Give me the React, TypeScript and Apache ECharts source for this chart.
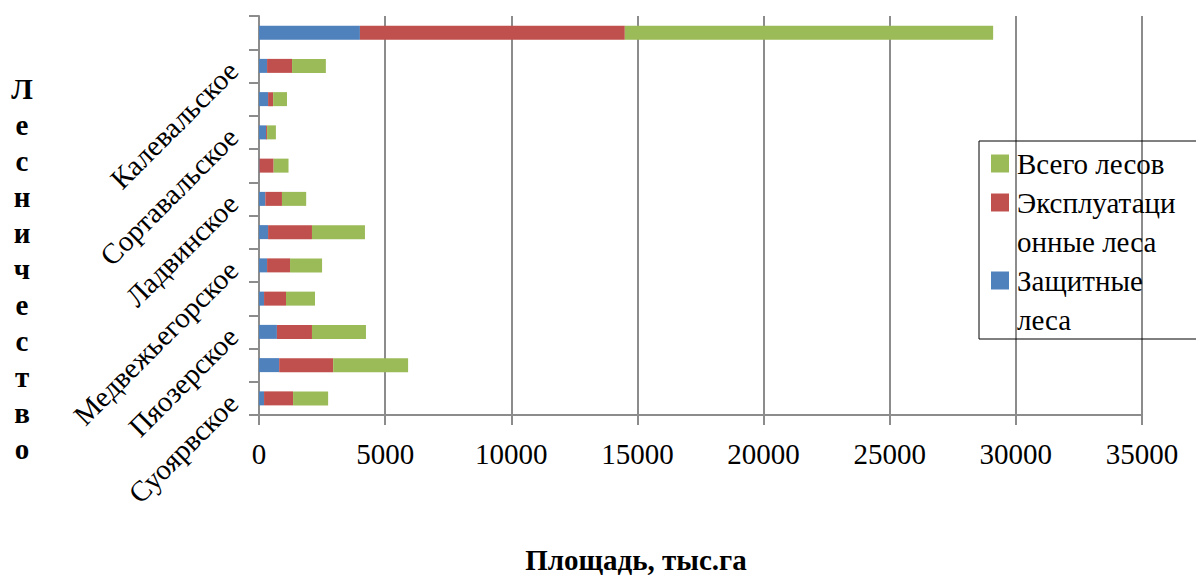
import React, { useEffect, useRef } from "react";
import * as echarts from "echarts";

const categories = [
  "Суоярвское",
  "Сегежское",
  "Пяозерское",
  "Пудожское",
  "Медвежьегорское",
  "Муезерское",
  "Ладвинское",
  "Олонецкое",
  "Сортавальское",
  "Питкярантское",
  "Калевальское",
  "Всего",
];
const protectiveForests = [200, 800, 710, 200, 320, 360, 250, 20, 280, 360, 320, 4000];
const exploitationForests = [1150, 2140, 1390, 870, 910, 1740, 660, 560, 40, 200, 990, 10500];
const totalForests = [1390, 2970, 2140, 1150, 1270, 2100, 960, 590, 350, 550, 1340, 14600];
const xTicks = { min: 0, max: 35000, interval: 5000 };

const SERIF = "Liberation Serif";
const NAME_PROT = "Защитные леса";
const NAME_EXPL = "Эксплуатационные леса";
const NAME_TOTAL = "Всего лесов";

export default function App() {
  const ref = useRef<HTMLDivElement>(null);
  useEffect(() => {
    if (!ref.current) return;
    const chart = echarts.init(ref.current, null, { renderer: "svg" });
    const legendLabels: Record<string, string> = {
      [NAME_TOTAL]: "{g|}{gap|}{t|Всего лесов}",
      [NAME_EXPL]: "{r|}{gap|}{t|Эксплуатаци}\n{sp|}{t|онные леса}",
      [NAME_PROT]: "{b|}{gap|}{t|Защитные}\n{sp|}{t|леса}",
    };
    const sq = (c: string) => ({ backgroundColor: c, width: 18, height: 18, verticalAlign: "middle" });
    chart.setOption({
      animation: false,
      backgroundColor: "#ffffff",
      textStyle: { fontFamily: SERIF },
      color: ["#4F81BD", "#C0504D", "#9BBB59"],
      grid: { left: 259, right: 54, top: 16, bottom: 162, containLabel: false },
      xAxis: {
        type: "value",
        min: xTicks.min,
        max: xTicks.max,
        interval: xTicks.interval,
        axisLine: { show: true, lineStyle: { color: "#8c8c8c", width: 2 } },
        axisTick: { show: true, length: 10, lineStyle: { color: "#8c8c8c", width: 2 } },
        splitLine: { show: true, lineStyle: { color: "#8c8c8c", width: 2 } },
        axisLabel: {
          color: "#000",
          fontSize: 29,
          fontFamily: SERIF,
          margin: 24,
          formatter: (v: number) => String(v),
        },
      },
      yAxis: {
        type: "category",
        data: categories,
        axisLine: { show: true, lineStyle: { color: "#8c8c8c", width: 2 } },
        axisTick: {
          show: true,
          interval: 0,
          length: 10,
          alignWithLabel: false,
          lineStyle: { color: "#8c8c8c", width: 2 },
        },
        axisLabel: {
          interval: 1,
          rotate: 45,
          color: "#000",
          fontSize: 29,
          fontFamily: SERIF,
          margin: 26,
        },
      },
      legend: {
        orient: "vertical",
        left: 979,
        top: 141,
        data: [NAME_TOTAL, NAME_EXPL, NAME_PROT],
        itemWidth: 0,
        itemHeight: 0,
        itemGap: 0,
        padding: [3, 30, 0, 7],
        borderColor: "#000",
        borderWidth: 1,
        selectedMode: false,
        formatter: (name: string) => legendLabels[name] || name,
        textStyle: {
          fontFamily: SERIF,
          fontSize: 29,
          lineHeight: 39,
          color: "#000",
          rich: {
            g: sq("#9BBB59"),
            r: sq("#C0504D"),
            b: sq("#4F81BD"),
            gap: { width: 8 },
            sp: { width: 26 },
            t: { fontFamily: SERIF, fontSize: 29, lineHeight: 39, color: "#000" },
          },
        },
      },
      series: [
        { name: NAME_PROT, type: "bar", stack: "f", data: protectiveForests, barWidth: 14 },
        { name: NAME_EXPL, type: "bar", stack: "f", data: exploitationForests, barWidth: 14 },
        { name: NAME_TOTAL, type: "bar", stack: "f", data: totalForests, barWidth: 14 },
      ],
      graphic: [
        {
          type: "text",
          x: 22,
          y: 269,
          style: {
            text: "Лесничество".split("").join("\n"),
            font: `bold 29px ${SERIF}`,
            lineHeight: 36,
            fill: "#000",
            align: "center",
            verticalAlign: "middle",
          },
        },
        {
          type: "text",
          x: 636,
          y: 560,
          style: {
            text: "Площадь, тыс.га",
            font: `bold 29px ${SERIF}`,
            fill: "#000",
            align: "center",
            verticalAlign: "middle",
          },
        },
      ],
    });
    return () => chart.dispose();
  }, []);
  return (
    <div
      ref={ref}
      style={{ position: "fixed", left: 0, top: 0, width: 1196, height: 577, background: "#fff" }}
    />
  );
}
